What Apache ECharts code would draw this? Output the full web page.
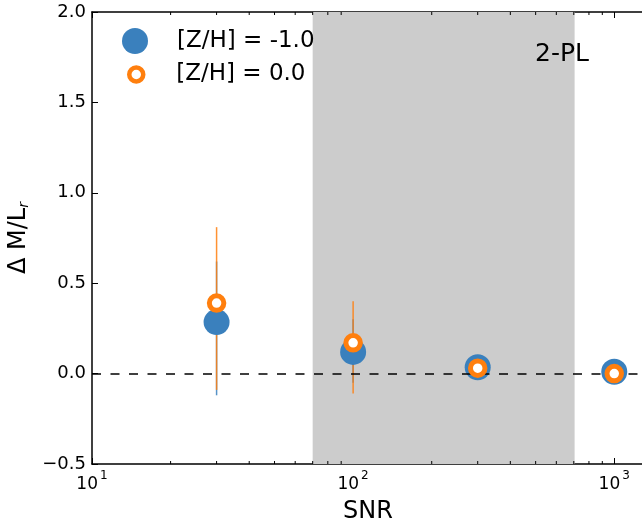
<!DOCTYPE html>
<html><head><meta charset="utf-8">
<script src="https://cdn.jsdelivr.net/npm/echarts@6/dist/echarts.min.js"></script>
<style>html,body{margin:0;padding:0;background:#fff;overflow:hidden}#c{width:642px;height:523px}</style>
</head><body><div id="c"></div>
<script>
const snr = [30, 100, 300, 1000];
const blueVals = [0.285, 0.12, 0.035, 0.01];
const blueLo = [-0.12, -0.05, 0.02, 0.0];
const blueHi = [0.62, 0.30, 0.05, 0.02];
const orangeVals = [0.39, 0.17, 0.03, 0.0];
const orangeLo = [-0.09, -0.11, 0.01, -0.01];
const orangeHi = [0.81, 0.40, 0.05, 0.01];
const minorTicks = [20,30,40,50,60,70,80,90,200,300,400,500,600,700,800,900];
const bandRange = [70, 705];
const xMin = 10, xMax = 1300;
const blueName = '[Z/H] = -1.0', orangeName = '[Z/H] = 0.0';
const BLUE = '#3a80bd', ORANGE = '#ff7f0e';
const FONT = 'DejaVu Sans';

const chart = echarts.init(document.getElementById('c'), null, {renderer: 'canvas'});

function errSeries(name, xs, lo, hi, color, z) {
  return {
    type: 'custom', name: name, z: z, silent: true,
    data: xs.map((x, i) => [x, lo[i], hi[i]]),
    encode: {x: 0, y: [1, 2]},
    renderItem: (params, api) => {
      const a = api.coord([api.value(0), api.value(1)]);
      const b = api.coord([api.value(0), api.value(2)]);
      return {type: 'line', shape: {x1: a[0], y1: a[1], x2: b[0], y2: b[1]},
        style: {stroke: color, lineWidth: 1.5, opacity: 0.85}};
    }
  };
}

const option = {
  animation: false,
  backgroundColor: '#fff',
  textStyle: {fontFamily: FONT},
  grid: {left: 92, top: 12, width: 552, height: 452, containLabel: false, outerBoundsMode: 'none'},
  title: {text: '2-PL', left: 535, top: 42, padding: 0, textStyle: {fontFamily: FONT, fontSize: 25, fontWeight: 'normal', color: '#000'}},
  legend: [
    {data: [blueName], left: 122, top: 28, padding: 0, orient: 'vertical', itemWidth: 26, itemHeight: 26,
     textStyle: {fontFamily: FONT, fontSize: 23, color: '#000', padding: [0, 0, 0, 24]}, selectedMode: false},
    {data: [orangeName], left: 127, top: 63, padding: 0, orient: 'vertical', itemWidth: 14, itemHeight: 14,
     itemStyle: {borderWidth: 4.5},
     textStyle: {fontFamily: FONT, fontSize: 23, color: '#000', padding: [0, 0, 0, 28]}, selectedMode: false}
  ],
  xAxis: [
    {type: 'log', logBase: 10, min: xMin, max: xMax, position: 'bottom',
     name: 'SNR', nameLocation: 'middle', nameGap: 36,
     nameTextStyle: {fontFamily: FONT, fontSize: 24, color: '#000'},
     axisLine: {onZero: false, lineStyle: {color: '#000', width: 1.5}},
     axisTick: {inside: true, length: 6, lineStyle: {color: '#000', width: 1}},
     axisLabel: {showMaxLabel: false, color: '#000', margin: 6,
       formatter: v => '{b|10}{s|' + Math.round(Math.log10(v)) + '}',
       rich: {b: {fontFamily: FONT, fontSize: 17, color: '#000', padding: [6, 0, 0, 0]},
              s: {fontFamily: FONT, fontSize: 12, color: '#000', verticalAlign: 'top', padding: [0, 0, 0, 2]}}},
     splitLine: {show: false}},
    {type: 'log', logBase: 10, min: xMin, max: xMax, position: 'top',
     axisLine: {onZero: false, lineStyle: {color: '#000', width: 1.5}},
     axisTick: {inside: true, length: 6, lineStyle: {color: '#000', width: 1}},
     axisLabel: {show: false}, splitLine: {show: false}}
  ],
  yAxis: [{
    type: 'value', min: -0.5, max: 2.0, interval: 0.5,
    name: 'Δ M/L{sub|r}', nameLocation: 'middle', nameGap: 61, nameRotate: 90,
    nameTextStyle: {fontFamily: FONT, fontSize: 24, color: '#000',
      rich: {sub: {fontFamily: FONT, fontSize: 14, fontStyle: 'italic', color: '#000', verticalAlign: 'bottom', padding: [8, 0, 0, 0]}}},
    axisLine: {show: true, onZero: false, lineStyle: {color: '#000', width: 1.5}},
    axisTick: {show: true, inside: true, length: 6, lineStyle: {color: '#000', width: 1}},
    axisLabel: {color: '#000', fontFamily: FONT, fontSize: 18, margin: 6,
      formatter: v => (v < 0 ? '\u2212' + Math.abs(v).toFixed(1) : v.toFixed(1))},
    splitLine: {show: false}
  }],
  series: [
    {type: 'custom', name: 'minor', silent: true, z: 10,
     data: minorTicks.map(v => [v]), encode: {x: 0},
     renderItem: (params, api) => {
       const b = api.coord([api.value(0), -0.5]);
       const t = api.coord([api.value(0), 2.0]);
       return {type: 'group', children: [
         {type: 'line', shape: {x1: b[0], y1: b[1], x2: b[0], y2: b[1] - 3}, style: {stroke: '#000', lineWidth: 1}},
         {type: 'line', shape: {x1: t[0], y1: t[1], x2: t[0], y2: t[1] + 3}, style: {stroke: '#000', lineWidth: 1}}
       ]};
     }},
    {type: 'line', name: 'band', data: [], z: 0, silent: true,
     markArea: {silent: true, itemStyle: {color: '#cccccc'},
       data: [[{xAxis: bandRange[0], yAxis: -0.5}, {xAxis: bandRange[1], yAxis: 2.0}]]},
     markLine: {silent: true, symbol: 'none', label: {show: false},
       lineStyle: {color: '#000', type: [9, 9.5], width: 1.5},
       data: [{yAxis: 0}]}},
    errSeries('blueErr', snr, blueLo, blueHi, BLUE, 2),
    errSeries('orangeErr', snr, orangeLo, orangeHi, ORANGE, 3),
    {type: 'scatter', name: blueName, z: 4, symbol: 'circle', symbolSize: 26,
     itemStyle: {color: BLUE, opacity: 1},
     data: snr.map((x, i) => [x, blueVals[i]])},
    {type: 'scatter', name: orangeName, z: 5, symbol: 'circle', symbolSize: 14.5,
     itemStyle: {color: '#fff', borderColor: ORANGE, borderWidth: 5, opacity: 1},
     data: snr.map((x, i) => [x, orangeVals[i]])}
  ]
};
chart.setOption(option);
</script></body></html>
